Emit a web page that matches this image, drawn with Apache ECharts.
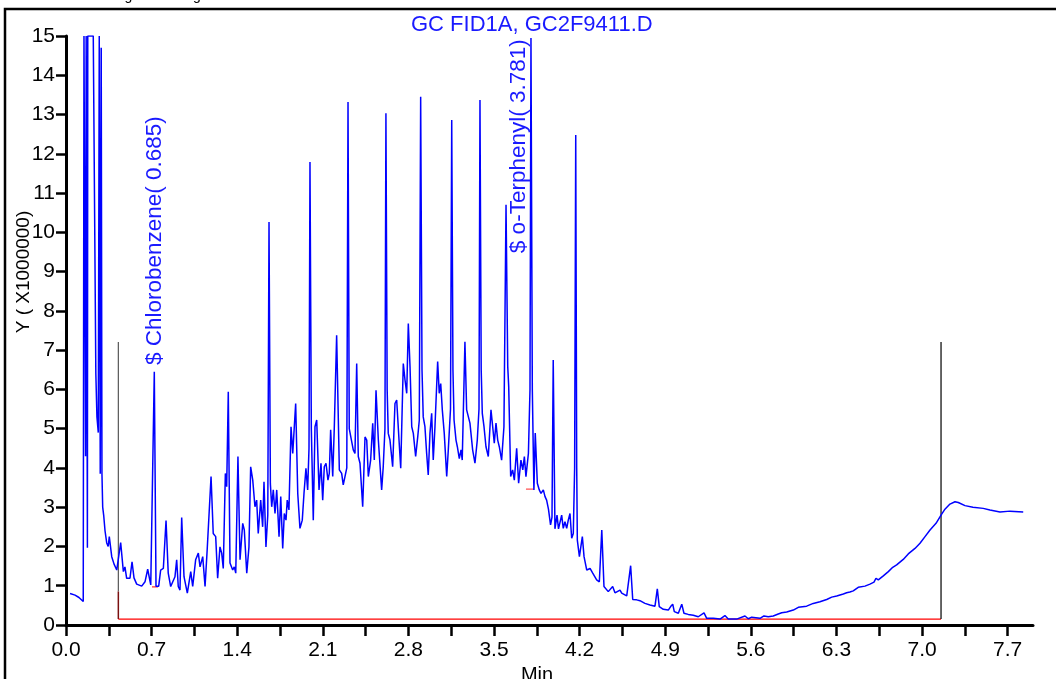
<!DOCTYPE html>
<html>
<head>
<meta charset="utf-8">
<script src="https://cdn.jsdelivr.net/npm/echarts@6/dist/echarts.min.js"></script>
<style>
  html, body { margin: 0; padding: 0; background: #fff; }
  #chart { width: 1056px; height: 679px; }
</style>
</head>
<body>
<div id="chart"></div>
<script>
// FID signal trace: [retention time (min), response (x1000000)]
const trace = [
  [0.033,0.80],[0.049,0.83],[0.074,0.76],[0.106,0.70],[0.141,0.60],
  [0.147,15],[0.155,15],[0.160,4.3],[0.165,15],[0.172,15],[0.175,1.97],[0.178,15],[0.223,15],
  [0.244,6.4],[0.253,5.3],[0.264,4.9],[0.272,15],[0.280,3.85],[0.288,14.7],[0.294,3.85],
  [0.300,3.0],[0.308,2.8],[0.319,2.4],[0.333,2.09],[0.345,2.0],[0.354,2.25],[0.374,1.74],
  [0.393,1.55],[0.415,1.40],[0.428,1.36],[0.447,2.10],[0.469,1.36],[0.482,1.48],[0.496,1.19],
  [0.523,1.19],[0.540,1.61],[0.556,1.20],[0.578,1.04],[0.619,0.99],[0.646,1.10],[0.668,1.42],
  [0.693,1.02],[0.709,0.99],[0.722,6.45],[0.736,0.99],[0.758,0.99],[0.774,1.40],[0.796,1.44],
  [0.818,2.66],[0.836,1.32],[0.856,0.98],[0.891,1.23],[0.905,1.66],[0.918,0.98],[0.932,0.89],
  [0.946,2.74],[0.965,1.23],[0.992,0.81],[1.020,1.36],[1.036,0.98],[1.060,1.66],[1.082,1.83],
  [1.096,1.48],[1.118,1.74],[1.137,0.98],[1.155,1.95],[1.169,1.91],[1.186,3.78],[1.204,2.33],
  [1.224,2.25],[1.240,1.19],[1.259,1.99],[1.273,1.83],[1.286,1.44],[1.303,3.86],[1.314,3.52],
  [1.327,5.94],[1.341,1.58],[1.363,1.40],[1.376,1.48],[1.388,1.32],[1.406,4.29],[1.423,1.66],
  [1.445,2.59],[1.458,2.42],[1.478,1.32],[1.496,1.99],[1.510,4.03],[1.527,3.69],[1.545,3.01],
  [1.559,3.18],[1.572,2.33],[1.592,3.18],[1.608,2.50],[1.619,3.65],[1.635,1.99],[1.650,2.8],
  [1.660,10.26],[1.671,3.6],[1.682,3.01],[1.695,3.44],[1.709,2.84],[1.723,3.44],[1.742,2.25],
  [1.756,3.27],[1.772,1.95],[1.785,2.84],[1.799,2.67],[1.809,3.18],[1.823,2.93],[1.840,5.05],
  [1.854,4.37],[1.878,5.64],[1.895,3.35],[1.913,2.46],[1.932,2.67],[1.946,3.35],[1.962,3.99],
  [1.976,3.44],[1.987,4.5],[1.995,11.79],[2.006,5.0],[2.022,2.67],[2.036,5.05],[2.050,5.22],
  [2.069,3.44],[2.085,4.12],[2.099,3.18],[2.112,4.03],[2.126,4.12],[2.142,3.69],[2.153,3.86],
  [2.164,4.97],[2.181,3.78],[2.194,5.05],[2.213,7.38],[2.235,3.95],[2.254,3.86],[2.267,3.57],
  [2.296,4.0],[2.306,13.32],[2.316,5.0],[2.349,4.46],[2.363,4.37],[2.377,6.66],[2.390,4.29],
  [2.404,4.12],[2.426,3.01],[2.445,4.79],[2.459,4.71],[2.472,3.78],[2.491,4.20],[2.508,5.14],
  [2.521,4.20],[2.535,5.98],[2.554,4.71],[2.581,3.44],[2.594,4.03],[2.608,5.0],[2.616,13.03],
  [2.626,6.0],[2.635,4.88],[2.649,4.71],[2.671,4.03],[2.690,5.64],[2.704,5.73],[2.723,4.71],
  [2.737,3.99],[2.758,6.66],[2.772,6.24],[2.786,5.90],[2.799,7.68],[2.813,6.58],[2.827,5.05],
  [2.840,4.88],[2.859,4.29],[2.876,4.79],[2.889,5.22],[2.900,13.45],[2.911,6.5],[2.921,5.30],
  [2.935,5.05],[2.949,4.37],[2.962,3.82],[2.976,4.88],[2.990,5.39],[3.003,4.20],[3.017,5.05],
  [3.039,6.71],[3.052,5.90],[3.064,6.15],[3.077,5.48],[3.093,4.88],[3.113,3.78],[3.126,4.46],
  [3.144,5.5],[3.154,12.86],[3.164,6.5],[3.173,5.22],[3.189,4.71],[3.200,4.54],[3.216,4.24],
  [3.230,4.46],[3.240,4.20],[3.262,7.21],[3.276,5.48],[3.289,5.52],[3.303,5.14],[3.325,4.46],
  [3.344,4.12],[3.363,4.71],[3.377,5.5],[3.385,13.37],[3.395,6.5],[3.404,5.39],[3.418,5.05],
  [3.434,4.54],[3.453,4.29],[3.475,5.48],[3.489,5.05],[3.502,4.63],[3.516,5.14],[3.530,4.71],
  [3.543,4.54],[3.562,4.20],[3.581,5.05],[3.598,10.70],[3.612,6.58],[3.620,6.07],[3.636,3.78],
  [3.652,3.95],[3.666,3.69],[3.685,4.50],[3.701,3.61],[3.720,4.20],[3.735,3.95],[3.748,4.29],
  [3.761,3.78],[3.781,4.37],[3.794,6.0],[3.802,14.95],[3.813,6.0],[3.826,3.44],[3.837,4.89],
  [3.854,3.61],[3.870,3.44],[3.884,3.35],[3.903,3.44],[3.917,3.27],[3.930,3.18],[3.945,2.95],
  [3.962,2.55],[3.974,2.75],[3.984,6.75],[3.998,2.45],[4.015,2.80],[4.027,2.45],[4.039,2.42],
  [4.053,2.80],[4.066,2.46],[4.080,2.63],[4.094,2.46],[4.107,2.67],[4.121,2.84],[4.135,2.21],
  [4.148,2.33],[4.159,4.0],[4.168,12.48],[4.176,4.0],[4.181,2.16],[4.198,1.74],[4.209,1.74],
  [4.222,2.25],[4.236,1.74],[4.258,1.40],[4.285,1.44],[4.307,1.32],[4.339,1.15],[4.361,1.10],
  [4.381,2.42],[4.399,0.98],[4.434,0.85],[4.470,0.98],[4.489,0.82],[4.530,0.89],[4.544,0.81],
  [4.585,0.74],[4.598,0.72],[4.617,1.51],[4.634,0.65],[4.666,0.64],[4.693,0.62],[4.734,0.55],
  [4.775,0.51],[4.816,0.48],[4.835,0.92],[4.851,0.47],[4.884,0.40],[4.925,0.38],[4.944,0.47],
  [4.961,0.53],[4.974,0.34],[5.007,0.30],[5.035,0.53],[5.053,0.30],[5.088,0.27],[5.129,0.25],
  [5.170,0.21],[5.217,0.31],[5.239,0.17],[5.293,0.17],[5.348,0.15],[5.388,0.24],[5.415,0.15],
  [5.484,0.15],[5.552,0.23],[5.579,0.16],[5.607,0.20],[5.675,0.17],[5.707,0.23],[5.742,0.21],
  [5.783,0.23],[5.824,0.28],[5.852,0.31],[5.893,0.33],[5.947,0.38],[5.988,0.45],[6.002,0.43],
  [6.056,0.48],[6.110,0.55],[6.124,0.59],[6.165,0.59],[6.220,0.65],[6.261,0.71],[6.302,0.74],
  [6.356,0.79],[6.383,0.82],[6.410,0.84],[6.437,0.87],[6.478,0.96],[6.533,0.99],[6.574,1.04],
  [6.607,1.09],[6.623,1.19],[6.642,1.15],[6.683,1.25],[6.724,1.36],[6.760,1.47],[6.792,1.53],
  [6.846,1.67],[6.887,1.81],[6.942,1.95],[6.983,2.08],[7.024,2.25],[7.065,2.42],[7.114,2.59],
  [7.155,2.80],[7.187,2.95],[7.228,3.08],[7.269,3.14],[7.296,3.12],[7.351,3.04],[7.416,3.00],
  [7.500,2.97],[7.555,2.93],[7.637,2.88],[7.719,2.90],[7.827,2.88]
];

// Integration window and baseline
const windowStart = 0.428;
const windowEnd = 7.155;
const windowTop = 7.21;
const baselineLevel = 0.15;
const windowStartSplit = 0.85;

// Short baseline segments under the named peaks
const chlorobenzeneBase = [[0.703, 0.97], [0.752, 0.97]];
const terphenylBase = [[3.761, 3.46], [3.826, 3.46]];

// Compound annotations and their anchor points [min, response]
const peakNames = ['$ Chlorobenzene( 0.685)', '$ o-Terphenyl( 3.781)'];
const peakAnchors = [[0.728, 6.62], [3.704, 9.47]];

// Axis ticks and labels
const xTicks = [0, 0.35, 0.7, 1.05, 1.4, 1.75, 2.1, 2.45, 2.8, 3.15, 3.5, 3.85, 4.2, 4.55, 4.9, 5.25, 5.6, 5.95, 6.3, 6.65, 7.0, 7.35, 7.7];
const xLabels = [0, 0.7, 1.4, 2.1, 2.8, 3.5, 4.2, 4.9, 5.6, 6.3, 7.0, 7.7];
const xMax = 7.907;
const yMax = 15;

const FONT = 'Liberation Sans, Arial, sans-serif';
const BLUE = '#1a1aff';

const chart = echarts.init(document.getElementById('chart'), null, { renderer: 'canvas' });

chart.setOption({
  animation: false,
  backgroundColor: '#fff',
  title: {
    text: 'GC FID1A, GC2F9411.D',
    left: 406,
    top: 9,
    textStyle: { color: BLUE, fontSize: 22, fontWeight: 'normal', fontFamily: FONT }
  },
  grid: { left: 66, right: 23, top: 36, bottom: 54, containLabel: false, outerBoundsMode: 'none' },
  xAxis: {
    type: 'value',
    min: 0,
    max: xMax,
    name: 'Min',
    nameLocation: 'middle',
    nameGap: 37,
    nameTextStyle: { color: '#000', fontSize: 20, fontFamily: FONT, padding: [0, 25, 0, 0] },
    axisLine: { show: true, onZero: false, lineStyle: { color: '#000', width: 3 } },
    axisTick: { show: true, customValues: xTicks, length: 11, lineStyle: { color: '#000', width: 2.5 } },
    axisLabel: {
      customValues: xLabels,
      formatter: v => Number(v).toFixed(1),
      margin: 15,
      color: '#000',
      fontSize: 21,
      fontFamily: FONT
    },
    splitLine: { show: false }
  },
  yAxis: {
    type: 'value',
    min: 0,
    max: yMax,
    interval: 1,
    axisLine: { show: true, lineStyle: { color: '#000', width: 3 } },
    axisTick: { show: true, length: 10, lineStyle: { color: '#000', width: 2.5 } },
    axisLabel: { margin: 11, color: '#000', fontSize: 21, fontFamily: FONT },
    splitLine: { show: false }
  },
  graphic: [
    {
      id: 'frame', type: 'rect', z: 0,
      shape: { x: 5, y: 9, width: 1200, height: 800 },
      style: { fill: null, stroke: '#000', lineWidth: 2.5 }
    },
    {
      id: 'header', type: 'text', x: 112, y: 3,
      style: { text: 'Signal Scaling', fill: '#000', fontSize: 14, fontFamily: FONT, align: 'left', verticalAlign: 'bottom' }
    },
    {
      id: 'yname', type: 'text', x: 24, y: 272, rotation: Math.PI / 2,
      style: { text: 'Y ( X1000000)', fill: '#000', fontSize: 19, fontFamily: FONT, align: 'center', verticalAlign: 'middle' }
    }
  ],
  series: [
    {
      type: 'line', name: 'baseline', silent: true, showSymbol: false,
      data: [[windowStart, baselineLevel], [windowEnd, baselineLevel]],
      lineStyle: { color: '#ff0000', width: 1.2 }, z: 2
    },
    {
      type: 'line', name: 'window start', silent: true, showSymbol: false,
      data: [[windowStart, windowStartSplit], [windowStart, windowTop]],
      lineStyle: { color: '#555', width: 1.2 }, z: 2
    },
    {
      type: 'line', name: 'window start low', silent: true, showSymbol: false,
      data: [[windowStart, baselineLevel], [windowStart, windowStartSplit]],
      lineStyle: { color: '#7a1010', width: 1.5 }, z: 2
    },
    {
      type: 'line', name: 'window end', silent: true, showSymbol: false,
      data: [[windowEnd, baselineLevel], [windowEnd, windowTop]],
      lineStyle: { color: '#000', width: 1.2 }, z: 2
    },
    {
      type: 'line', name: 'chlorobenzene base', silent: true, showSymbol: false,
      data: chlorobenzeneBase,
      lineStyle: { color: '#ff3030', width: 1.2 }, z: 2
    },
    {
      type: 'line', name: 'terphenyl base', silent: true, showSymbol: false,
      data: terphenylBase,
      lineStyle: { color: '#ff5050', width: 1.2 }, z: 2
    },
    {
      type: 'line', name: 'FID1A', showSymbol: false, sampling: null, clip: true,
      data: trace,
      lineStyle: { color: '#0000ff', width: 1.5 }, z: 3
    }
  ]
});

// Compound labels, rotated to read upward from their anchor points
const labelGraphics = peakNames.map((name, i) => {
  const p = chart.convertToPixel({ gridIndex: 0 }, peakAnchors[i]);
  return {
    id: 'peak' + i, type: 'text', x: p[0], y: p[1], rotation: Math.PI / 2, z: 10,
    style: { text: name, fill: BLUE, fontSize: 22.5, fontFamily: FONT, align: 'left', verticalAlign: 'middle' }
  };
});
chart.setOption({ graphic: labelGraphics });
</script>
</body>
</html>
